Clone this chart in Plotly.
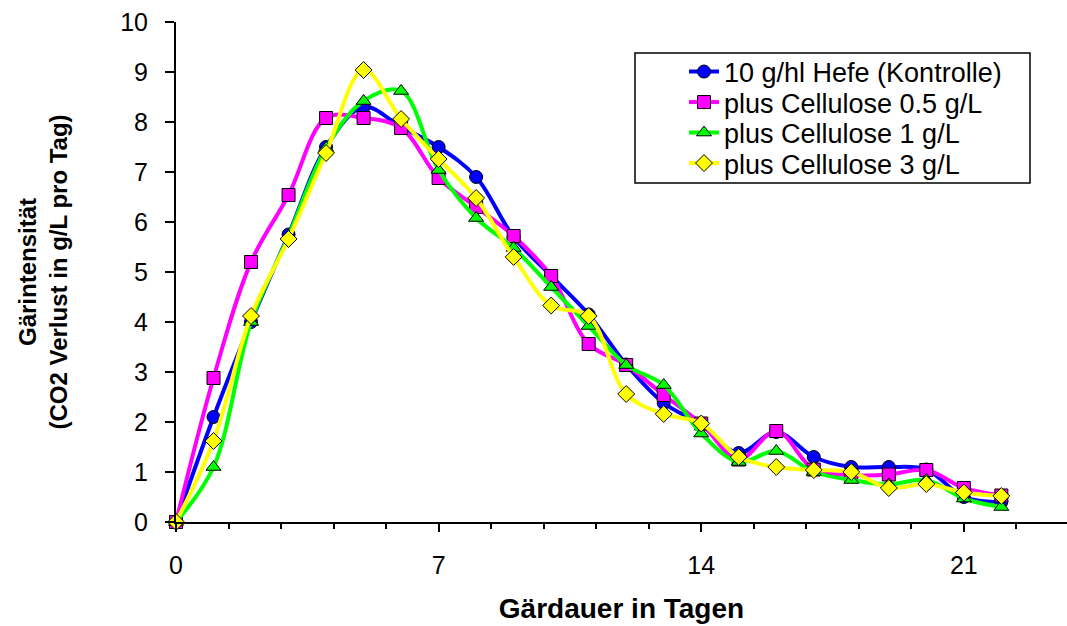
import plotly.graph_objects as go

# ---- data ----
days = list(range(23))
kontrolle = [0, 2.1, 4.0, 5.75, 7.5, 8.3, 7.9, 7.5, 6.9, 5.7, 4.92, 4.15, 3.15, 2.38,
             1.95, 1.38, 1.8, 1.3, 1.1, 1.1, 1.05, 0.5, 0.4]
cellulose_05 = [0, 2.88, 5.2, 6.54, 8.08, 8.08, 7.88, 6.88, 6.3, 5.72, 4.92, 3.56, 3.14, 2.54,
                1.97, 1.25, 1.82, 1.05, 0.94, 0.95, 1.04, 0.68, 0.53]
cellulose_1 = [0, 1.1, 4.0, 5.72, 7.48, 8.42, 8.62, 7.04, 6.08, 5.48, 4.7, 3.92, 3.14, 2.74,
               1.77, 1.2, 1.42, 1.0, 0.84, 0.75, 0.84, 0.47, 0.3]
cellulose_3 = [0, 1.62, 4.12, 5.66, 7.38, 9.04, 8.06, 7.26, 6.48, 5.3, 4.33, 4.12, 2.56, 2.16,
               1.97, 1.3, 1.1, 1.04, 1.0, 0.68, 0.76, 0.59, 0.52]

names = ["10 g/hl Hefe (Kontrolle)", "plus Cellulose 0.5 g/L",
         "plus Cellulose 1 g/L", "plus Cellulose 3 g/L"]
series = [kontrolle, cellulose_05, cellulose_1, cellulose_3]
colors = ["#0000FF", "#FF00FF", "#00FF00", "#FFFF00"]
symbols = ["circle", "square", "triangle-up", "diamond"]

x_ticks = [0, 7, 14, 21]
y_ticks = list(range(0, 11))

FONT = "Liberation Sans, Arial, sans-serif"

W, H = 1067, 626
L, R, T, B = 176, 0, 22, 104
pw, ph = W - L - R, H - T - B


def px_x(p):
    return (p - L) / pw


def px_y(p):
    return (H - B - p) / ph


legend_ids = ["legend", "legend2", "legend3", "legend4"]
legend_rows = [72, 102.5, 133, 163.5]

fig = go.Figure()
for name, ys, col, sym, lid in zip(names, series, colors, symbols, legend_ids):
    fig.add_trace(go.Scatter(
        x=days, y=ys, name=name, mode="lines+markers",
        line=dict(color=col, width=4, shape="spline", smoothing=1),
        marker=dict(symbol=sym, size=13, color=col, line=dict(color="black", width=1)),
        cliponaxis=False, legend=lid,
    ))

legend_layout = {}
for lid, row in zip(legend_ids, legend_rows):
    legend_layout[lid] = dict(
        x=px_x(684), y=px_y(row), xanchor="left", yanchor="middle",
        bgcolor="rgba(0,0,0,0)", borderwidth=0,
        font=dict(family=FONT, size=27, color="black"),
    )

fig.update_layout(
    width=W, height=H,
    margin=dict(l=L, r=R, t=T, b=B, pad=0),
    paper_bgcolor="white", plot_bgcolor="white",
    font=dict(family=FONT, color="black"),
    showlegend=True,
    shapes=[dict(
        type="rect", xref="paper", yref="paper",
        x0=px_x(635), x1=px_x(1030), y0=px_y(183), y1=px_y(53),
        line=dict(color="black", width=1.5), fillcolor="rgba(0,0,0,0)", layer="above",
    )],
    xaxis=dict(
        range=[0, 23.75], tickmode="array", tickvals=x_ticks,
        ticktext=[str(v) for v in x_ticks],
        ticks="outside", ticklen=8, tickwidth=2, tickcolor="black",
        showline=True, linewidth=2, linecolor="black",
        showgrid=False, zeroline=False,
        minor=dict(dtick=1.4, tick0=0, ticks="outside", ticklen=5, tickwidth=1.5,
                   tickcolor="black", showgrid=False),
        tickfont=dict(family=FONT, size=25, color="black"),
        ticklabelstandoff=12,
        title=dict(text="Gärdauer in Tagen", standoff=20,
                   font=dict(family=FONT, size=28, color="black", weight="bold")),
    ),
    yaxis=dict(
        range=[0, 10], tickmode="array", tickvals=y_ticks,
        ticks="outside", ticklen=9, tickwidth=2, tickcolor="black",
        showline=True, linewidth=2, linecolor="black",
        showgrid=False, zeroline=False,
        tickfont=dict(family=FONT, size=25, color="black"),
        ticklabelstandoff=12,
        title=dict(text="Gärintensität<br>(CO2 Verlust in g/L pro Tag)", standoff=46,
                   font=dict(family=FONT, size=24, color="black", weight="bold")),
    ),
    **legend_layout,
)

fig.write_html("out.html")
